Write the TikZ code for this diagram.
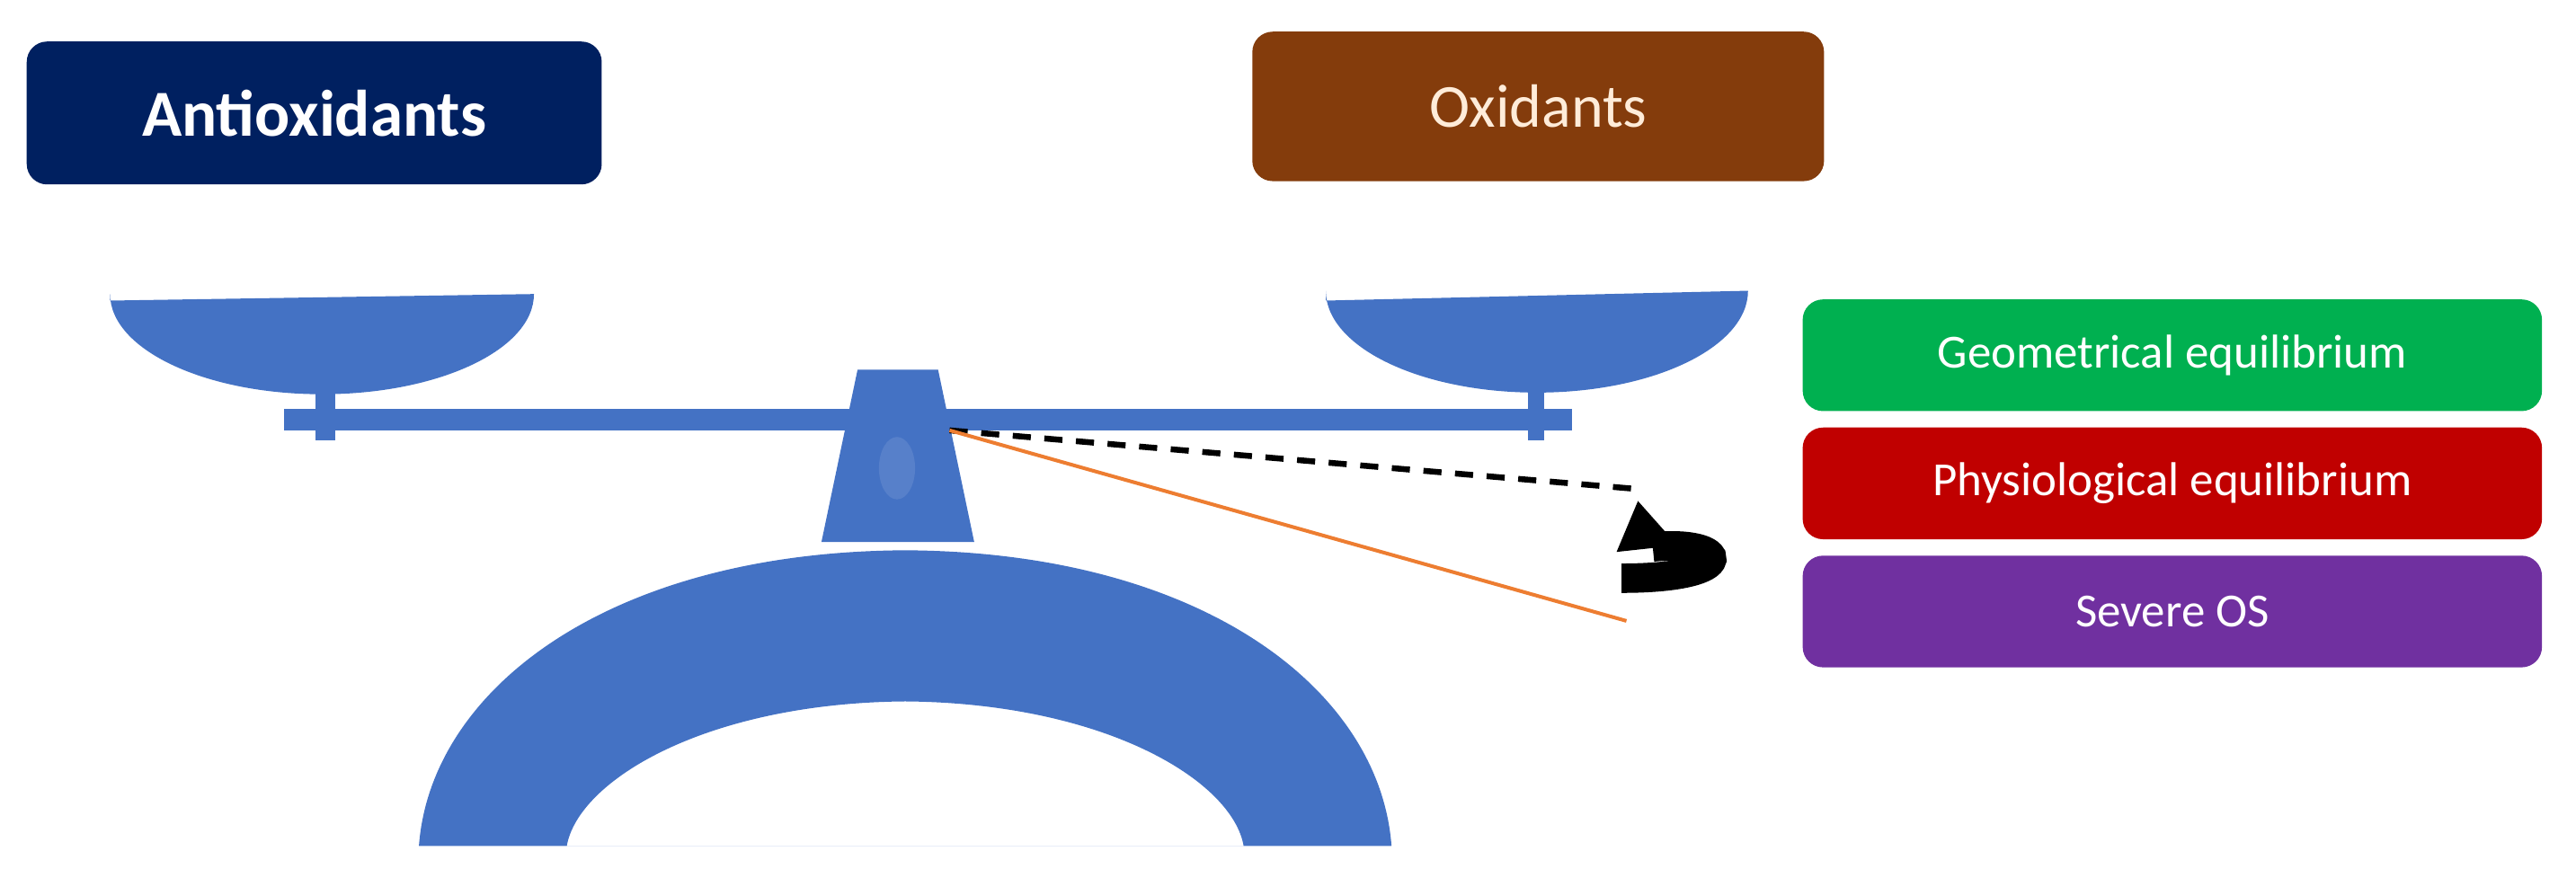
\documentclass[tikz,border=0pt]{standalone}
\usepackage{fontspec}
\setmainfont{Carlito}
\definecolor{navy}{HTML}{002060}
\definecolor{brownox}{HTML}{843C0C}
\definecolor{gr}{HTML}{00B050}
\definecolor{rd}{HTML}{C00000}
\definecolor{pu}{HTML}{7030A0}
\definecolor{sb}{HTML}{4472C4}
\definecolor{orangeL}{HTML}{ED7D31}
\tikzset{
 box/.style={rounded corners=9pt, inner sep=0pt, anchor=north west},
 sbox/.style={box, text=white, font=\fontsize{21}{24}\selectfont},
}
\begin{document}
\begin{tikzpicture}[x=0.0255cm,y=-0.0255cm]
\useasboundingbox (0,0) rectangle (1568,529);
% header boxes
\node[box, fill=navy, minimum width=350*0.0255cm, minimum height=87*0.0255cm, text=white, font=\fontsize{29}{32}\selectfont\bfseries] (anti) at (16,25) {Antioxidants};
\node[box, fill=brownox, minimum width=348*0.0255cm, minimum height=91*0.0255cm, text=orange!15, font=\fontsize{27}{30}\selectfont] (ox) at (762,19) {Oxidants};
% right boxes
\node[sbox, fill=gr, minimum width=450*0.0255cm, minimum height=68*0.0255cm] (geo) at (1097,182) {Geometrical equilibrium};
\node[sbox, fill=rd, minimum width=450*0.0255cm, minimum height=68*0.0255cm] (phy) at (1097,260) {Physiological equilibrium};
\node[sbox, fill=pu, minimum width=450*0.0255cm, minimum height=68*0.0255cm] (sev) at (1097,338) {Severe OS};
% arch
\fill[sb, even odd rule] (255,515) .. controls (262,420) and (370,336) .. (551,335) .. controls (732,336) and (840,420) .. (847,515) -- cycle
 (345,515) .. controls (352,475) and (430,428) .. (551,427) .. controls (672,428) and (750,475) .. (757,515) -- cycle;
% pedestal
\fill[sb] (522,225) -- (571,225) -- (593,330) -- (500,330) -- cycle;
\fill[sb!90!white] (546,285) ellipse[x radius=11, y radius=19];
% beam and stems
\fill[sb] (173,249) rectangle (957,262);
\fill[sb] (192,235) rectangle (204,268);
\fill[sb] (930,235) rectangle (940,268);
% pans
\fill[sb] (67,183) -- (325,179) arc[start angle=0, end angle=180, x radius=129, y radius=61] -- cycle;
\fill[sb] (807,183) -- (1064,177) arc[start angle=0, end angle=180, x radius=128.5, y radius=62] -- cycle;
% lines
\coordinate (piv) at (578,262);
\coordinate (dend) at (1000,298);
\coordinate (oend) at (990,378);
\draw[black, line width=2.6pt, dash pattern=on 8pt off 6pt] (piv) -- (dend);
\draw[orangeL, line width=1.6pt] (piv) -- (oend);
% curved arrow
\coordinate (ca) at (987,352);
\coordinate (cb) at (1006,333);
\draw[line width=13pt] (ca) .. controls (1062,352) and (1052,328) .. (cb);
\fill (997,305) -- (984,336) -- (1021,332) -- cycle;
\end{tikzpicture}
\end{document}
